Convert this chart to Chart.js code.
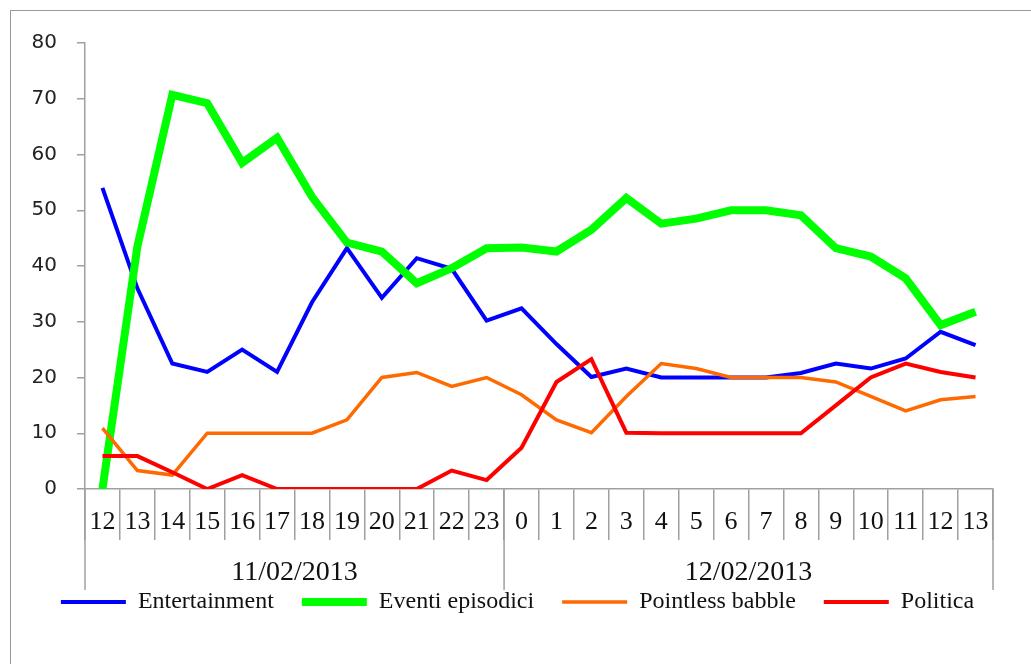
<!DOCTYPE html>
<html>
<head>
<meta charset="utf-8">
<title>Topics per hour</title>
<script src="https://cdn.jsdelivr.net/npm/chart.js@4.4.0/dist/chart.umd.min.js"></script>
<style>
    html, body { margin: 0; padding: 0; background: #fff; overflow: hidden; }
    .wrap { position: relative; width: 1031px; height: 664px; overflow: hidden; }
    .frame { position: absolute; left: 10px; top: 10px; width: 1100px; height: 700px; border: 1px solid #999; }
    canvas { position: absolute; left: 0; top: 0; }
</style>
</head>
<body>
<div class="wrap">
    <div class="frame"></div>
    <canvas id="chart" width="1031" height="664"></canvas>
</div>
<script>
// Hours on the x axis, grouped by day
const hours = ['12', '13', '14', '15', '16', '17', '18', '19', '20', '21', '22', '23',
               '0', '1', '2', '3', '4', '5', '6', '7', '8', '9', '10', '11', '12', '13'];
const days = ['11/02/2013', '12/02/2013'];
const daySpans = [12, 14];

// Series values
const entertainment = [54, 36, 22.5, 21, 25, 21, 33.5, 43.2, 34.3, 41.4, 39.5, 30.2,
                       32.4, 26, 20.1, 21.6, 20, 20, 20, 20, 20.8, 22.5, 21.6, 23.4, 28.2, 25.8];
const eventi = [0, 43.5, 70.7, 69.2, 58.5, 63, 52.4, 44.2, 42.6, 36.9, 39.6, 43.2,
                43.3, 42.6, 46.5, 52.2, 47.6, 48.5, 50, 50, 49.1, 43.2, 41.7, 37.8, 29.4, 31.8];
const pointless = [10.9, 3.3, 2.5, 10, 10, 10, 10, 12.4, 20, 20.9, 18.4, 20,
                   16.9, 12.4, 10.1, 16.6, 22.5, 21.6, 20, 20, 20, 19.2, 16.6, 14, 16, 16.6];
const politica = [5.9, 5.9, 3, 0, 2.5, 0, 0, 0, 0, 0, 3.3, 1.6,
                  7.4, 19.2, 23.3, 10.1, 10, 10, 10, 10, 10, 15, 20, 22.5, 21, 20];

const yTicks = [0, 10, 20, 30, 40, 50, 60, 70, 80];

const axisColor = '#a0a0a0';
const serif = "'Liberation Serif', 'Times New Roman', serif";

// Draws the day separators and the day labels under the hour labels
const dayGroups = {
    id: 'dayGroups',
    beforeDraw(chart) {
        // nudge the legend row a bit to the right, like the original
        if (chart.legend && !chart.legend._nudged) {
            chart.legend.left += 21;
            chart.legend.right += 21;
            chart.legend._nudged = true;
        }
    },
    afterDraw(chart) {
        const xs = chart.scales.x;
        const ctx = chart.ctx;
        const half = (xs.getPixelForValue(1) - xs.getPixelForValue(0)) / 2;
        const lineBottom = xs.top + 101;

        ctx.save();
        ctx.strokeStyle = axisColor;
        ctx.lineWidth = 1.5;
        ctx.fillStyle = '#111';
        ctx.font = '28px ' + serif;
        ctx.textAlign = 'center';
        ctx.textBaseline = 'middle';

        let start = 0;
        days.forEach(function(day, i) {
            const left = xs.getPixelForValue(start) - half;
            const right = xs.getPixelForValue(start + daySpans[i] - 1) + half;
            ctx.beginPath();
            ctx.moveTo(left, xs.top);
            ctx.lineTo(left, lineBottom);
            if (i === days.length - 1) {
                ctx.moveTo(right, xs.top);
                ctx.lineTo(right, lineBottom);
            }
            ctx.stroke();
            ctx.fillText(day, (left + right) / 2, xs.top + 84);
            start += daySpans[i];
        });
        ctx.restore();
    }
};

function lineSet(label, data, color, width, order) {
    return {
        label: label,
        data: data,
        borderColor: color,
        backgroundColor: color,
        borderWidth: width,
        pointRadius: 0,
        pointHoverRadius: 0,
        tension: 0,
        fill: false,
        order: order
    };
}

new Chart(document.getElementById('chart'), {
    type: 'line',
    data: {
        labels: hours,
        datasets: [
            lineSet('Entertainment', entertainment, '#0000ff', 4, 4),
            lineSet('Eventi episodici', eventi, '#00ff00', 8, 3),
            lineSet('Pointless babble', pointless, '#ff6a00', 3.5, 2),
            lineSet('Politica', politica, '#ff0000', 4, 1)
        ]
    },
    options: {
        responsive: false,
        animation: false,
        layout: {
            padding: { top: 43, right: 38, bottom: 40, left: 0 }
        },
        scales: {
            x: {
                offset: true,
                grid: {
                    offset: true,
                    drawOnChartArea: false,
                    tickLength: 51,
                    color: axisColor,
                    lineWidth: 1.5
                },
                border: { color: axisColor, width: 1.5 },
                ticks: {
                    autoSkip: false,
                    maxRotation: 0,
                    padding: -33,
                    color: '#111',
                    font: { family: serif, size: 26 }
                },
                afterFit: function(scale) { scale.height = 73; }
            },
            y: {
                min: 0,
                max: 80,
                afterBuildTicks: function(scale) {
                    scale.ticks = yTicks.map(v => ({ value: v }));
                },
                grid: {
                    drawOnChartArea: false,
                    tickLength: 8,
                    color: axisColor,
                    lineWidth: 1.5
                },
                border: { color: axisColor, width: 1.5 },
                ticks: {
                    padding: 20,
                    color: '#222',
                    font: { family: "'DejaVu Sans', sans-serif", size: 20 }
                },
                afterFit: function(scale) { scale.width = 85; }
            }
        },
        plugins: {
            legend: {
                position: 'bottom',
                labels: {
                    usePointStyle: true,
                    pointStyle: 'line',
                    pointStyleWidth: 65,
                    boxWidth: 65,
                    padding: 28,
                    color: '#111',
                    font: { family: serif, size: 24 },
                    sort: (a, b) => a.datasetIndex - b.datasetIndex
                }
            },
            tooltip: { enabled: false }
        }
    },
    plugins: [dayGroups]
});
</script>
</body>
</html>
